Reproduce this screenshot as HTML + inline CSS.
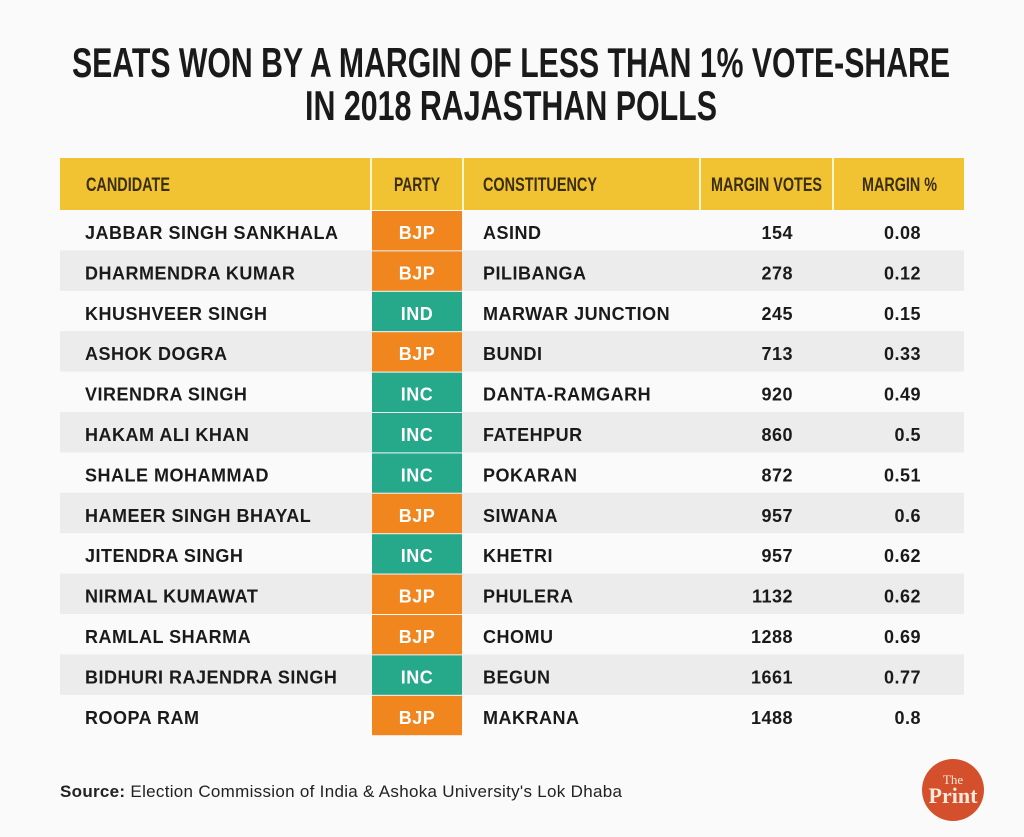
<!DOCTYPE html>
<html><head><meta charset="utf-8"><style>
body{margin:0;background:#fafafa;}
svg{display:block;font-family:"Liberation Sans",sans-serif;}
</style></head><body>
<svg width="1024" height="837" viewBox="0 0 1024 837">
<rect width="1024" height="837" fill="#fafafa"/>
<g font-weight="bold" font-size="42" fill="#1a1a1a" text-anchor="middle">
<text x="511" y="77" textLength="878" lengthAdjust="spacingAndGlyphs">SEATS WON BY A MARGIN OF LESS THAN 1% VOTE-SHARE</text>
<text x="511" y="120" textLength="412" lengthAdjust="spacingAndGlyphs">IN 2018 RAJASTHAN POLLS</text>
</g>
<rect x="60" y="158" width="904" height="52" fill="#f1c232"/>
<g stroke="#fff6d0" stroke-width="2">
<line x1="371" y1="158" x2="371" y2="210"/><line x1="463" y1="158" x2="463" y2="210"/>
<line x1="700" y1="158" x2="700" y2="210"/><line x1="833" y1="158" x2="833" y2="210"/>
</g>
<g font-size="19" fill="#3a2e10" font-weight="bold">
<text x="86" y="191" textLength="84" lengthAdjust="spacingAndGlyphs">CANDIDATE</text>
<text x="394" y="191" textLength="46" lengthAdjust="spacingAndGlyphs">PARTY</text>
<text x="483" y="191" textLength="114" lengthAdjust="spacingAndGlyphs">CONSTITUENCY</text>
<text x="711" y="191" textLength="111" lengthAdjust="spacingAndGlyphs">MARGIN VOTES</text>
<text x="862" y="191" textLength="75" lengthAdjust="spacingAndGlyphs">MARGIN %</text>
</g>
<g id="rows" font-size="18" font-weight="bold" fill="#1a1a1a" letter-spacing="0.5"></g>
<text x="60" y="797" font-size="17" fill="#222" letter-spacing="0.3"><tspan font-weight="bold">Source:</tspan> Election Commission of India &amp; Ashoka University's Lok Dhaba</text>
<circle cx="953" cy="790" r="31" fill="#d4502c"/>
<text x="953" y="784" font-family="Liberation Serif,serif" font-size="13" fill="#fbe9dc" text-anchor="middle">The</text>
<text x="953" y="803" font-family="Liberation Serif,serif" font-weight="bold" font-size="22" fill="#fbe9dc" text-anchor="middle">Print</text>
</svg>
<script>
var d=[["JABBAR SINGH SANKHALA","BJP","ASIND","154","0.08"],["DHARMENDRA KUMAR","BJP","PILIBANGA","278","0.12"],["KHUSHVEER SINGH","IND","MARWAR JUNCTION","245","0.15"],["ASHOK DOGRA","BJP","BUNDI","713","0.33"],["VIRENDRA SINGH","INC","DANTA-RAMGARH","920","0.49"],["HAKAM ALI KHAN","INC","FATEHPUR","860","0.5"],["SHALE MOHAMMAD","INC","POKARAN","872","0.51"],["HAMEER SINGH BHAYAL","BJP","SIWANA","957","0.6"],["JITENDRA SINGH","INC","KHETRI","957","0.62"],["NIRMAL KUMAWAT","BJP","PHULERA","1132","0.62"],["RAMLAL SHARMA","BJP","CHOMU","1288","0.69"],["BIDHURI RAJENDRA SINGH","INC","BEGUN","1661","0.77"],["ROOPA RAM","BJP","MAKRANA","1488","0.8"]];
var g=document.getElementById('rows'),h='';
for(var i=0;i<d.length;i++){var y=210+i*40.4,c=y+29;
if(i%2==1)h+='<rect x="60" y="'+y+'" width="904" height="40.4" fill="#ececec"/>';
h+='<rect x="372" y="'+(y+1)+'" width="90" height="39.4" fill="'+(d[i][1]=="BJP"?"#f0861d":"#26a88a")+'"/>';
h+='<text x="85" y="'+c+'">'+d[i][0]+'</text>';
h+='<text x="417" y="'+c+'" fill="#fff" text-anchor="middle">'+d[i][1]+'</text>';
h+='<text x="483" y="'+c+'">'+d[i][2]+'</text>';
h+='<text x="793" y="'+c+'" text-anchor="end">'+d[i][3]+'</text>';
h+='<text x="921" y="'+c+'" text-anchor="end">'+d[i][4]+'</text>';}
g.innerHTML=h;
</script>
</body></html>
